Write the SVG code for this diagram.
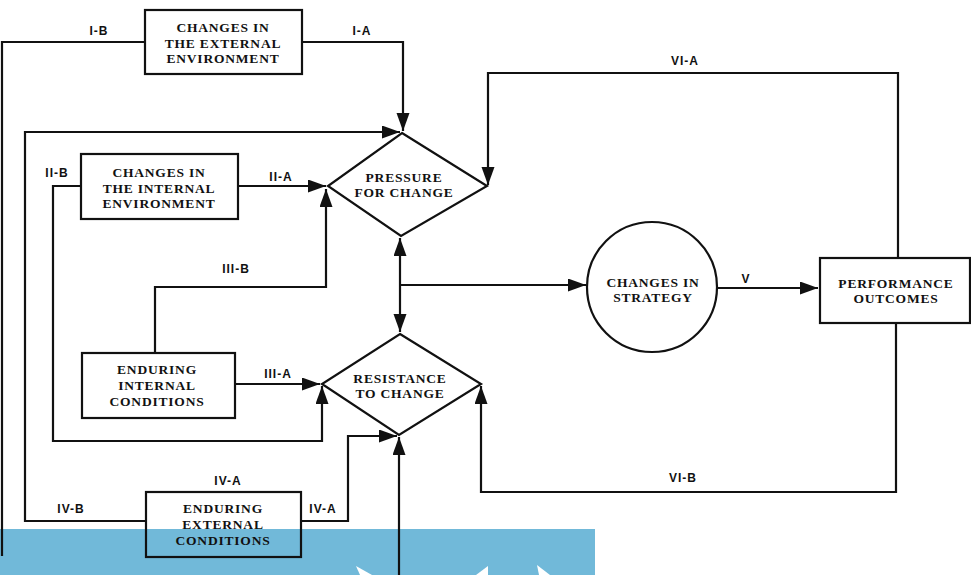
<svg xmlns="http://www.w3.org/2000/svg" width="971" height="575" viewBox="0 0 971 575">
<style>
.box{fill:none;stroke:#111;stroke-width:2.2}
.ln{fill:none;stroke:#111;stroke-width:2.2}
.nt{font-family:"Liberation Serif","Times New Roman",serif;font-weight:bold;font-size:13.5px;fill:#111;text-anchor:middle;letter-spacing:0.8px}
.lb{font-family:"Liberation Sans",Arial,sans-serif;font-weight:bold;font-size:12px;fill:#111;text-anchor:middle;letter-spacing:1px}
</style>
<defs>
<marker id="ah" markerUnits="userSpaceOnUse" markerWidth="20" markerHeight="14" refX="18" refY="6.5" orient="auto-start-reverse">
<path d="M0,0 L18,6.5 L0,13 z" fill="#111"/>
</marker>
</defs>
<rect x="0" y="529" width="595" height="46" fill="#71b9d9"/>
<g fill="#fff">
<polygon points="356,566 372,575 360,575"/>
<polygon points="488,566 488,575 476,575"/>
<polygon points="537,565 550,575 539,575"/>
</g>
<g id="connectors">
<path class="ln" d="M146,42 H2 V556"/>
<path class="ln" d="M302,42 H403 V131" marker-end="url(#ah)"/>
<path class="ln" d="M146,521 H25 V132 H400" marker-end="url(#ah)"/>
<path class="ln" d="M81,186 H53 V441 H322 V386" marker-end="url(#ah)"/>
<path class="ln" d="M238,186 H326" marker-end="url(#ah)"/>
<path class="ln" d="M155,353 V287 H326 V189" marker-end="url(#ah)"/>
<path class="ln" d="M235,384 H320" marker-end="url(#ah)"/>
<path class="ln" d="M301,521 H348 V436 H397" marker-end="url(#ah)"/>
<path class="ln" d="M399,575 V437" marker-end="url(#ah)"/>
<path class="ln" d="M400,238 V332" marker-start="url(#ah)" marker-end="url(#ah)"/>
<path class="ln" d="M400,285 H586" marker-end="url(#ah)"/>
<path class="ln" d="M718,288 H818" marker-end="url(#ah)"/>
<path class="ln" d="M898,258 V73 H488 V185" marker-end="url(#ah)"/>
<path class="ln" d="M896,323 V492 H481 V386" marker-end="url(#ah)"/>
</g>
<g id="labels">
<text class="lb" x="99" y="35">I-B</text>
<text class="lb" x="362" y="35">I-A</text>
<text class="lb" x="57" y="177">II-B</text>
<text class="lb" x="281" y="181">II-A</text>
<text class="lb" x="236" y="273">III-B</text>
<text class="lb" x="278" y="378">III-A</text>
<text class="lb" x="228" y="485">IV-A</text>
<text class="lb" x="323" y="513">IV-A</text>
<text class="lb" x="71" y="513">IV-B</text>
<text class="lb" x="685" y="65">VI-A</text>
<text class="lb" x="746" y="283">V</text>
<text class="lb" x="683" y="482">VI-B</text>
</g>
<g id="external-env">
<rect class="box" x="145" y="10" width="157" height="64"/>
<text class="nt" x="223" y="32">CHANGES IN</text>
<text class="nt" x="223" y="48">THE EXTERNAL</text>
<text class="nt" x="223" y="63">ENVIRONMENT</text>
</g>
<g id="internal-env">
<rect class="box" x="81" y="154" width="157" height="65"/>
<text class="nt" x="159" y="177">CHANGES IN</text>
<text class="nt" x="159" y="193">THE INTERNAL</text>
<text class="nt" x="159" y="208">ENVIRONMENT</text>
</g>
<g id="pressure">
<polygon class="box" points="402,133 487,186 401,236 328,186"/>
<text class="nt" x="404" y="182">PRESSURE</text>
<text class="nt" x="404" y="197">FOR CHANGE</text>
</g>
<g id="enduring-internal">
<rect class="box" x="82" y="353" width="153" height="65"/>
<text class="nt" x="157" y="374">ENDURING</text>
<text class="nt" x="157" y="390">INTERNAL</text>
<text class="nt" x="157" y="406">CONDITIONS</text>
</g>
<g id="resistance">
<polygon class="box" points="400,334 481,384 399,435 322,384"/>
<text class="nt" x="400" y="383">RESISTANCE</text>
<text class="nt" x="400" y="398">TO CHANGE</text>
</g>
<g id="strategy">
<circle class="box" cx="652" cy="287" r="65"/>
<text class="nt" x="653" y="287">CHANGES IN</text>
<text class="nt" x="653" y="302">STRATEGY</text>
</g>
<g id="performance">
<rect class="box" x="820" y="258" width="150" height="65"/>
<text class="nt" x="896" y="288">PERFORMANCE</text>
<text class="nt" x="896" y="303">OUTCOMES</text>
</g>
<g id="enduring-external">
<rect class="box" x="146" y="492" width="155" height="65"/>
<text class="nt" x="223" y="513">ENDURING</text>
<text class="nt" x="223" y="529">EXTERNAL</text>
<text class="nt" x="223" y="545">CONDITIONS</text>
</g>
</svg>
